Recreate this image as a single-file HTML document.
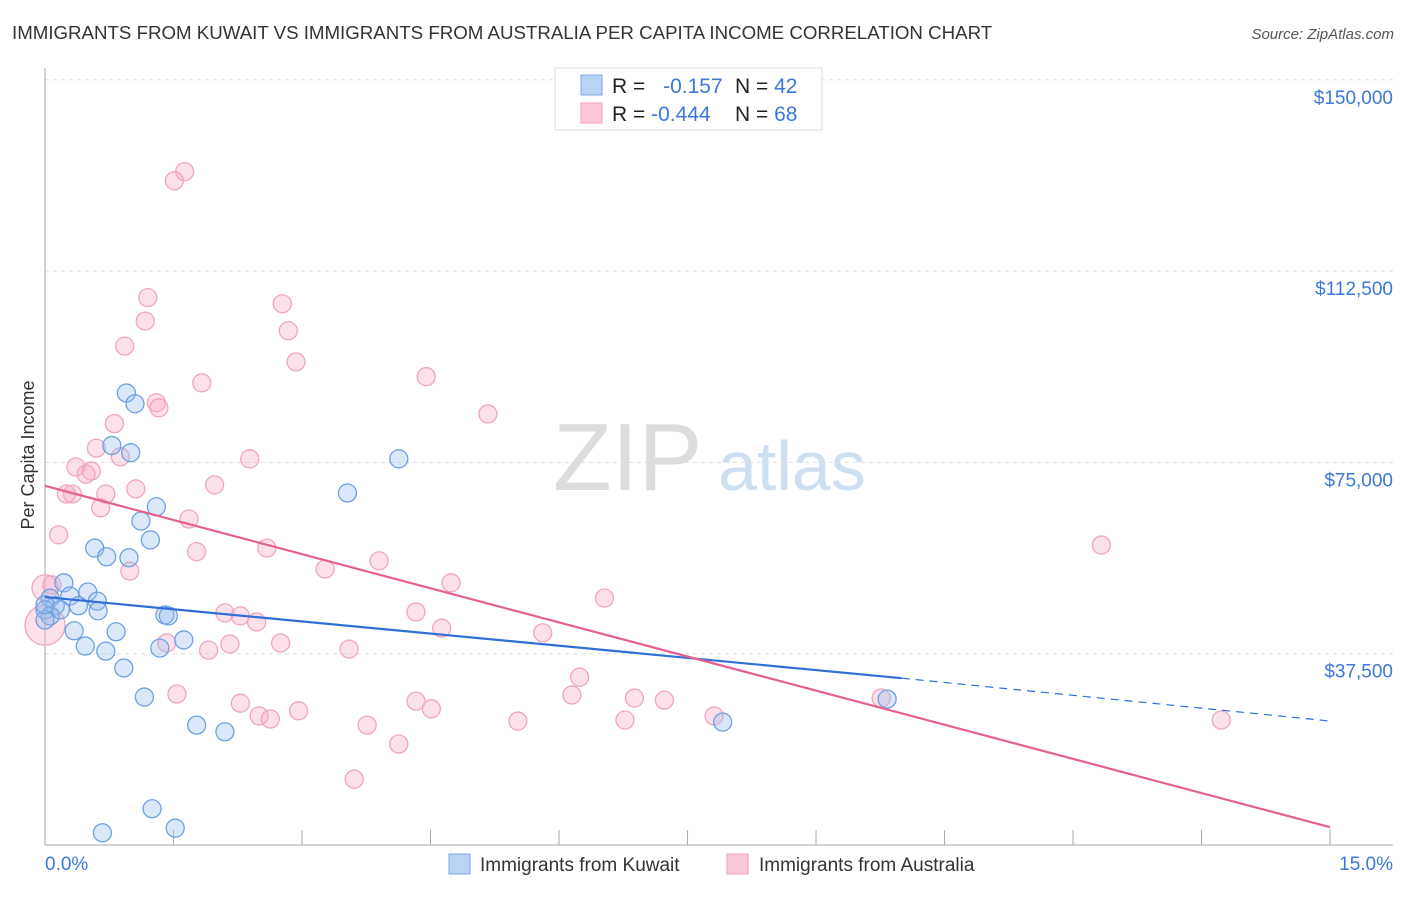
<!DOCTYPE html>
<html><head><meta charset="utf-8"><style>
body{margin:0;background:#fff;font-family:"Liberation Sans",sans-serif}
svg text{font-family:"Liberation Sans",sans-serif}
</style></head><body>
<svg id="c" width="1406" height="892">
<text x="12" y="39" font-size="18.7" fill="#333">IMMIGRANTS FROM KUWAIT VS IMMIGRANTS FROM AUSTRALIA PER CAPITA INCOME CORRELATION CHART</text>
<text x="1394" y="39" font-size="15" fill="#555" text-anchor="end" font-style="italic">Source: ZipAtlas.com</text>
<text x="553" y="490" font-size="96" fill="#ddd" font-family="Liberation Serif">ZIP</text>
<text x="718" y="490" font-size="70" fill="#cfdff2">atlas</text>
<text x="34" y="455" font-size="18" fill="#333" text-anchor="middle" transform="rotate(-90 34 455)">Per Capita Income</text>
<g id="grid"></g><g id="pts"></g><g id="lines"></g>
<g>
<rect x="555" y="68" width="267" height="62" fill="#fff" stroke="#ddd"/>
<rect x="581" y="75" width="21" height="20" fill="#b8d3f5" stroke="#7aa9e6"/>
<rect x="581" y="103" width="21" height="20" fill="#fcc9d8" stroke="#ef9fb8"/>
<text x="612" y="93" font-size="21" fill="#222">R = <tspan fill="#3b78d8" dx="12">-0.157</tspan><tspan x="735" fill="#222">N = </tspan><tspan fill="#3b78d8">42</tspan></text>
<text x="612" y="121" font-size="21" fill="#222">R = <tspan fill="#3b78d8">-0.444</tspan><tspan x="735" fill="#222">N = </tspan><tspan fill="#3b78d8">68</tspan></text>
</g>
<g>
<rect x="449" y="854" width="21" height="20" fill="#b8d3f5" stroke="#7aa9e6"/>
<text x="480" y="871" font-size="19" fill="#333">Immigrants from Kuwait</text>
<rect x="727" y="854" width="21" height="20" fill="#fcc9d8" stroke="#ef9fb8"/>
<text x="759" y="871" font-size="19" fill="#333">Immigrants from Australia</text>
</g>
</svg>
<script>
const yTicks=[37500,75000,112500,150000];
const yTickLabels=["$37,500","$75,000","$112,500","$150,000"];
const xTickLabels=["0.0%","15.0%"];
const kuwaitX=[0.95,1.05,0.78,1.00,3.53,4.13,1.30,1.12,1.23,0.58,0.72,0.98,0.22,0.06,0.50,0.29,0.61,0.12,0.39,0.62,0,1.40,1.44,0.06,0,0.83,0.34,1.62,0.47,1.34,0.71,0.92,1.16,1.77,2.10,1.25,0.67,1.52,7.91,9.83,0,0.18];
const kuwaitY=[88.6,86.5,78.3,76.9,69.0,75.7,66.3,63.5,59.8,58.2,56.5,56.3,51.4,48.4,49.6,48.8,47.8,46.9,46.9,45.9,46.1,45.1,44.9,44.9,44.1,41.8,42.0,40.2,39.0,38.6,38.0,34.7,29.0,23.5,22.2,7.1,2.4,3.3,24.1,28.6,47.1,46.1];
const ausX=[1.63,1.51,1.20,2.77,1.17,2.84,0.93,2.93,4.45,1.83,1.30,1.33,5.17,0.81,0.60,0.88,2.39,0.36,0.54,0.48,1.06,1.98,0.25,0.32,0.71,0.65,1.68,0.16,1.77,2.59,0.99,3.27,3.90,12.33,4.74,0.08,6.53,4.33,2.10,2.28,2.47,4.63,5.81,1.42,2.75,1.91,2.16,3.55,6.24,1.54,6.15,6.88,7.23,2.28,4.33,9.76,2.96,4.51,2.50,2.63,7.81,6.77,5.52,13.73,3.76,4.13,3.61,0,0];
const ausY=[132.0,130.2,107.3,106.1,102.7,100.8,97.8,94.7,91.8,90.6,86.7,85.7,84.5,82.6,77.8,76.1,75.7,74.1,73.3,72.7,69.8,70.6,68.8,68.8,68.8,66.1,63.9,60.8,57.5,58.2,53.7,54.1,55.7,58.8,51.4,51.0,48.4,45.7,45.5,44.9,43.7,42.5,41.6,39.6,39.6,38.2,39.4,38.4,32.9,29.6,29.4,28.8,28.4,27.8,28.2,28.8,26.3,26.7,25.3,24.7,25.3,24.5,24.3,24.5,23.5,19.8,12.9,43.1,50.4];
const ausR=ausX.map((v,i)=>i==67?20:(i==68?13:9));
const kuwaitTrend=[48.6,32.7,24.3]; // at x=0, 10.0, 15.0
const ausTrend=[70.4,3.5]; // at x=0, 15
const NS='http://www.w3.org/2000/svg';
const X=v=>45+v*85.67;
const Yk=k=>845-k*1000*191.3/37500;
function mk(t,a,p){const e=document.createElementNS(NS,t);for(const k in a)e.setAttribute(k,a[k]);(p||document.getElementById('c')).appendChild(e);return e;}
const grid=document.getElementById('grid');
yTicks.forEach((t,i)=>{const y=Yk(t/1000);
const g=mk('line',{x1:45,x2:1393,y1:y,y2:y,stroke:'#ddd','stroke-dasharray':'4,4'},grid);


const tx=mk('text',{x:1393,y:y+24,'font-size':19,fill:'#3b78d8','text-anchor':'end'},grid);
tx.textContent=yTickLabels[i];

});
const ax=mk('line',{x1:45,x2:45,y1:68,y2:845,stroke:'#aaa'},grid);


const bx=mk('line',{x1:45,x2:1393,y1:845,y2:845,stroke:'#aaa'},grid);


for(let i=0;i<=10;i++){const x=X(i*1.5);const t=mk('line',{x1:x,x2:x,y1:830,y2:845,stroke:'#aaa'},grid);

}
[[0,'start',45],[1,'end',1393]].forEach(([i,a,x])=>{const t=mk('text',{x:x,y:870,'font-size':19,fill:'#3b78d8','text-anchor':a},grid);t.textContent=xTickLabels[i];

});
const pts=document.getElementById('pts');
ausX.forEach((v,i)=>{const c=mk('circle',{cx:X(v),cy:Yk(ausY[i]),r:ausR[i],fill:'rgba(248,170,195,0.35)',stroke:'#f0a5bd','stroke-width':1.3},pts);

});
kuwaitX.forEach((v,i)=>{const c=mk('circle',{cx:X(v),cy:Yk(kuwaitY[i]),r:9,fill:'rgba(150,190,240,0.35)',stroke:'#6fa0e0','stroke-width':1.3},pts);

});
const L=document.getElementById('lines');
const l1=mk('line',{x1:X(0),y1:Yk(kuwaitTrend[0]),x2:X(10),y2:Yk(kuwaitTrend[1]),stroke:'#2f6fd6','stroke-width':2.2},L);


const l2=mk('line',{x1:X(10),y1:Yk(kuwaitTrend[1]),x2:X(15),y2:Yk(kuwaitTrend[2]),stroke:'#2f6fd6','stroke-width':1.2,'stroke-dasharray':'8,6'},L);


const l3=mk('line',{x1:X(0),y1:Yk(ausTrend[0]),x2:X(15),y2:Yk(ausTrend[1]),stroke:'#e4618f','stroke-width':2.2},L);


</script>
</body></html>
